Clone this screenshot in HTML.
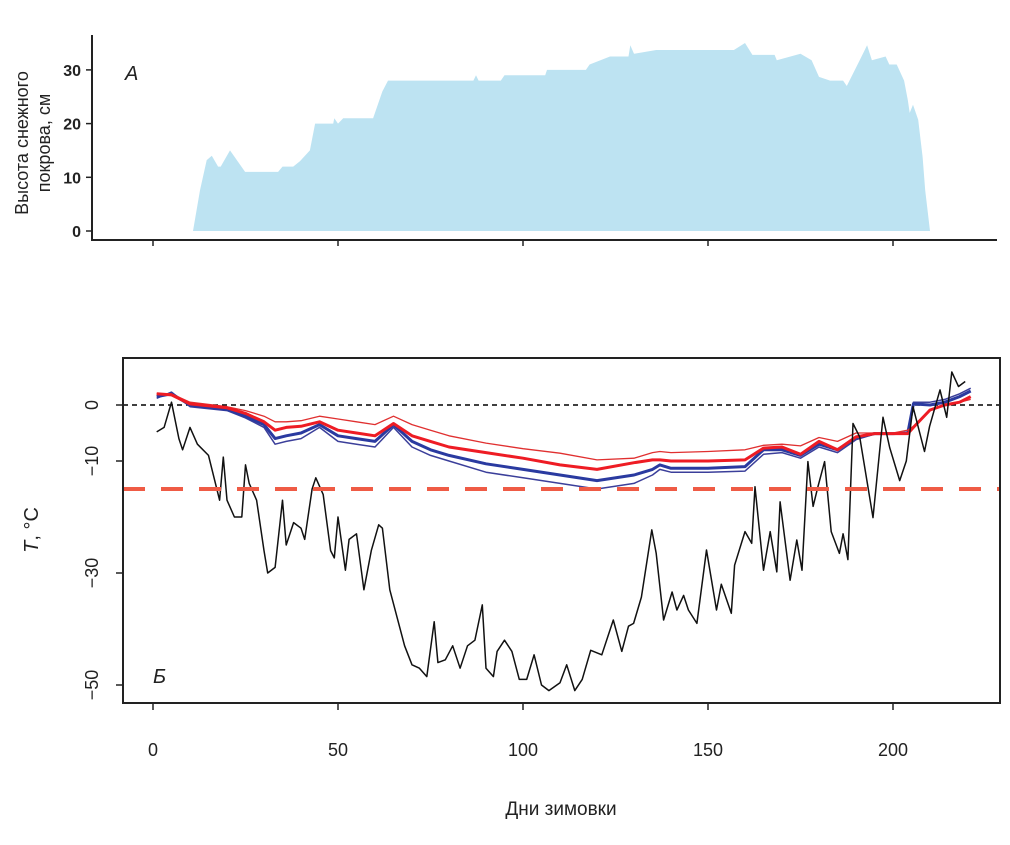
<!DOCTYPE html>
<html><head><meta charset="utf-8"><style>
body{margin:0;background:#fff}
svg text{font-family:"Liberation Sans",sans-serif;fill:#222}
</style></head><body>
<svg id="c" width="1010" height="840" viewBox="0 0 1010 840">
<g id="topPanel"></g>
<g id="botPanel"></g>
</svg>
<script>
const snowDays=[10.8,12.7,14.5,15.9,17.6,18.3,20.8,24.9,33.8,35,37.9,39.7,42.4,43.8,48.7,49,50,51.4,59.5,62,63.5,86.6,87.3,88,94,95,106,106.5,117,118,123.5,128.5,129,130,136,157,160,162,168,168.6,175,178,180,183,186.5,187.5,191,193,194.3,198,199,201,203,204,204.5,205.4,206.8,208,208.7,210];
const snowDepth=[0,7.6,13.2,14,12,12,15,11,11,12,12,13,15,20,20,21,20,21,21,26,28,28,29,28,28,29,29,30,30,31,32.5,32.5,34.6,33,33.7,33.7,35,32.8,32.8,31.8,33,31.8,28.7,28,28,27,31.8,34.6,31.8,32.5,31,31,28,24.4,22,23.5,20.7,13.8,7.6,0];
const snowTicks=[0,10,20,30];
const airDays=[1,3,5,7,8,10,12,15,18,19,20,22,24,25,26,28,30,31,33,35,36,38,40,41,43,44,46,48,49,50,52,53,55,57,59,61,62,64,66,68,70,72,74,76,77,79,81,83,85,87,89,90,92,93,95,97,99,101,103,105,107,110,111.8,114,116,118.3,121.3,124.4,126.7,128.5,129.9,132,134.8,136,138,140.3,141.6,143.4,144.7,147,149.6,152.3,153.6,156.3,157.2,160,161.8,162.7,165,166.8,168.6,169.5,172.2,174,175.4,177,178.4,179.7,181.5,183.3,185.5,186.5,187.8,189.2,191,194.6,197.3,199.1,201.8,203.6,205.4,208.5,209.9,212.7,214.5,215.9,217.7,219.5];
const airTemp=[-4.8,-4,0.5,-6,-8,-4,-7,-9,-17,-9.3,-17,-20,-20,-10.7,-14,-17,-26,-30,-29,-17,-25,-21,-22,-24,-15,-13,-16,-26,-27.3,-20,-29.5,-24,-23,-33,-26,-21.4,-22,-33,-38,-43,-46.4,-47,-48.5,-38.7,-46,-45.5,-43,-47,-43,-42,-35.7,-47,-48.5,-44,-42,-44,-49,-49,-44.6,-50,-51,-49.6,-46.4,-51,-49,-43.8,-44.6,-38.4,-44,-39.5,-39,-34.3,-22.3,-26.5,-38.4,-33.4,-36.6,-34,-36.6,-39,-25.9,-36.6,-32,-37.2,-28.6,-22.6,-24.7,-14.6,-29.5,-22.6,-29.8,-17.3,-31.3,-24.1,-29.5,-10.1,-18.1,-14.6,-10.1,-22.6,-26.5,-23,-27.6,-3.3,-5.7,-20.1,-2.2,-7.6,-13.5,-10,-0.3,-8.3,-3.8,2.7,-2.2,5.9,3.3,4.2];
const soilDays=[1,5,10,20,25,30,33,36,40,45,50,55,60,65,70,75,80,90,100,110,120,130,135,137,140,150,160,165,170,175,180,185,190,195,200,204,205.5,210,214,218,221];
const redTop=[2,2,0.5,-0.3,-1,-2,-3,-3,-2.8,-2,-2.5,-3,-3.5,-2,-3.5,-4.5,-5.5,-6.8,-7.8,-8.6,-9.8,-9.5,-8.5,-8.3,-8.5,-8.3,-8,-7.2,-7,-7.3,-5.8,-6.5,-5,-5,-5,-4.5,-3.8,-0.8,0,0.5,1];
const redMain=[2,1.8,0.2,-0.5,-1.5,-3,-4.5,-4,-3.8,-3,-4.5,-5,-5.5,-3.3,-5.5,-6.5,-7.5,-8.5,-9.5,-10.7,-11.5,-10.3,-9.8,-9.8,-10,-10,-9.8,-7.7,-7.5,-8.8,-6.5,-8,-5.7,-5.1,-5.1,-5.1,-4,-0.9,0,0.5,1.5];
const blueMain=[1.5,2,0,-0.8,-2,-3.5,-6,-5.5,-5,-3.5,-5.5,-6,-6.5,-3.5,-6.5,-8,-9,-10.5,-11.5,-12.5,-13.5,-12.5,-11.5,-10.7,-11.3,-11.3,-11,-8,-8,-9,-7,-8,-5.8,-5.1,-5.1,-5,0.2,0,0.5,1.5,2.5];
const blueBottom=[1.2,2.3,-0.3,-1,-2.3,-4,-7,-6.5,-6,-4,-6.5,-7,-7.5,-4,-7.5,-9,-10,-12,-13,-14,-15,-14,-12.5,-11.5,-12,-12,-11.8,-8.8,-8.5,-9.5,-7.5,-8.5,-6.2,-5.2,-5.2,-5,0.5,0.5,1,2,3];
const tTicks=[0,-10,-30,-50];
const xTicks=[0,50,100,150,200];
const threshold=-15;

const NS='http://www.w3.org/2000/svg';
const X=d=>153+3.7*d;
const YS=v=>231-5.37*v;
const YT=v=>405-5.6*v;
function mk(p,tag,at){const e=document.createElementNS(NS,tag);for(const k in at)e.setAttribute(k,at[k]);p.appendChild(e);return e;}
const topG=document.getElementById('topPanel'),botG=document.getElementById('botPanel');

let d='M'+X(snowDays[0])+','+YS(0);
snowDays.forEach((s,i)=>{d+='L'+X(s).toFixed(1)+','+YS(snowDepth[i]).toFixed(1);});
d+='Z';
let e=mk(topG,'path',{d:d,fill:'#bde3f2'});


e=mk(topG,'path',{d:'M92,35V240H997',fill:'none',stroke:'#222','stroke-width':2});


snowTicks.forEach(t=>{
  e=mk(topG,'line',{x1:86,x2:92,y1:YS(t),y2:YS(t),stroke:'#222','stroke-width':1.5});
  
  
  e=mk(topG,'text',{x:81,y:YS(t)+6,'text-anchor':'end','font-size':16,'font-weight':'bold',fill:'#333'});e.textContent=t;
  
  
});
xTicks.forEach(t=>{
  e=mk(topG,'line',{x1:X(t),x2:X(t),y1:240,y2:246,stroke:'#222','stroke-width':1.5});
  
  
});
e=mk(topG,'text',{x:125,y:80,'font-size':20,'font-style':'italic'});e.textContent='A';


e=mk(topG,'text',{transform:'translate(28,143) rotate(-90)','text-anchor':'middle','font-size':18});e.textContent='Высота снежного';


e=mk(topG,'text',{transform:'translate(50,143) rotate(-90)','text-anchor':'middle','font-size':18});e.textContent='покрова, см';



e=mk(botG,'line',{x1:123,x2:1000,y1:YT(0),y2:YT(0),stroke:'#000','stroke-width':1.5,'stroke-dasharray':'5,4'});


function line(days,vals,col,w,name){
  let p=days.map((s,i)=>(i?'L':'M')+X(s).toFixed(1)+','+YT(vals[i]).toFixed(1)).join('');
  const el=mk(botG,'path',{d:p,fill:'none',stroke:col,'stroke-width':w,'stroke-linejoin':'round'});
  
  
}
line(soilDays,blueBottom,'#3b3f9a',1.5,'soil-temp-blue-deep');
line(soilDays,blueMain,'#2a3aa0',3,'soil-temp-blue');
line(soilDays,redTop,'#e03030',1.3,'soil-temp-red-top');
line(soilDays,redMain,'#ee1c24',3,'soil-temp-red');
line(airDays,airTemp,'#111',1.5,'air-temp-line');
e=mk(botG,'line',{x1:123,x2:1000,y1:YT(threshold),y2:YT(threshold),stroke:'#ef5b45','stroke-width':4,'stroke-dasharray':'22,16'});


e=mk(botG,'rect',{x:123,y:358,width:877,height:345,fill:'none',stroke:'#222','stroke-width':2});


tTicks.forEach(t=>{
  e=mk(botG,'line',{x1:116,x2:123,y1:YT(t),y2:YT(t),stroke:'#222','stroke-width':1.5});
  
  
  e=mk(botG,'text',{transform:'translate(98,'+YT(t)+') rotate(-90)','text-anchor':'middle','font-size':18});e.textContent=t===0?'0':'−'+(-t);
  
  
});
xTicks.forEach(t=>{
  e=mk(botG,'line',{x1:X(t),x2:X(t),y1:703,y2:710,stroke:'#222','stroke-width':1.5});
  
  
  e=mk(botG,'text',{x:X(t),y:756,'text-anchor':'middle','font-size':18});e.textContent=t;
  
  
});
e=mk(botG,'text',{x:153,y:683,'font-size':20,'font-style':'italic'});e.textContent='Б';


e=mk(botG,'text',{transform:'translate(38,530) rotate(-90)','text-anchor':'middle','font-size':20});
e.innerHTML='<tspan font-style="italic">T</tspan>, °C';


e=mk(botG,'text',{x:561,y:815,'text-anchor':'middle','font-size':19});e.textContent='Дни зимовки';


</script>
</body></html>
